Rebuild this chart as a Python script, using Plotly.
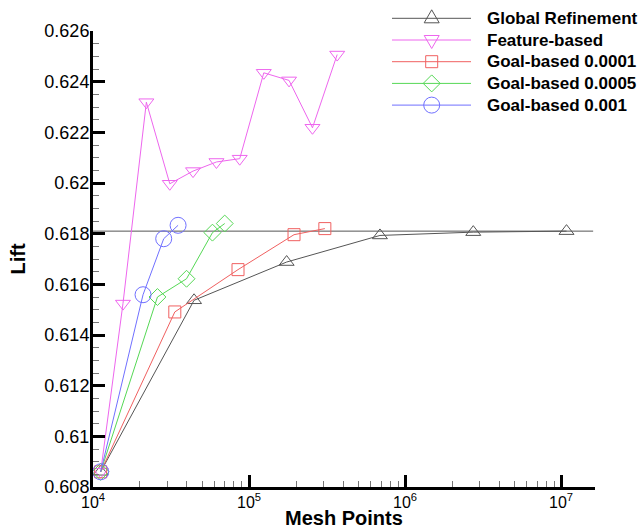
import math
import plotly.graph_objects as go

# ---- data ----
global_x = [11200, 44400, 174000, 689000, 2730000, 10800000]
global_y = [0.6086, 0.61537, 0.61688, 0.61793, 0.61806, 0.6181]

feature_x = [11200, 15560, 21970, 31040, 43740, 61770, 87100, 124200, 180300, 254700, 366800]
feature_y = [0.6086, 0.61524, 0.62319, 0.61997, 0.62047, 0.62083, 0.62096, 0.62435, 0.62405, 0.62218, 0.62507]

goal1e4_x = [11200, 33430, 84900, 194000, 305700]
goal1e4_y = [0.6086, 0.61491, 0.61658, 0.61796, 0.6182]

goal5e4_x = [11200, 25880, 39740, 58240, 69800]
goal5e4_y = [0.6086, 0.6155, 0.61622, 0.61804, 0.6184]

goal1e3_x = [11200, 20920, 28380, 35080]
goal1e3_y = [0.6086, 0.61559, 0.6178, 0.61833]

reference_x = [10000, 16000000]
reference_lift = 0.6181

series_names = ["Global Refinement", "Feature-based", "Goal-based 0.0001", "Goal-based 0.0005", "Goal-based 0.001"]

x_tickvals = [1e4, 1e5, 1e6, 1e7]
x_ticktext = ["10<sup>4</sup>", "10<sup>5</sup>", "10<sup>6</sup>", "10<sup>7</sup>"]

y_tickvals = [0.608, 0.610, 0.612, 0.614, 0.616, 0.618, 0.620, 0.622, 0.624, 0.626]
y_ticktext = ["0.608", "0.61", "0.612", "0.614", "0.616", "0.618", "0.62", "0.622", "0.624", "0.626"]

# ---- styling ----
W, H = 643, 529
ML, MR, MT, MB = 93, 48, 31, 42
PW, PH = W - ML - MR, H - MT - MB

styles = [
    ("#555555", "triangle-up-open", 13),
    ("#ee66ee", "triangle-down-open", 13),
    ("#f06060", "square-open", 12),
    ("#55d855", "diamond-open", 13),
    ("#7070ff", "circle-open", 16),
]
data = [(global_x, global_y), (feature_x, feature_y), (goal1e4_x, goal1e4_y),
        (goal5e4_x, goal5e4_y), (goal1e3_x, goal1e3_y)]

FONT = "Liberation Sans, Arial, sans-serif"

fig = go.Figure()
fig.add_trace(go.Scatter(
    x=reference_x, y=[reference_lift] * len(reference_x), mode="lines",
    line=dict(color="#555555", width=1), showlegend=False, hoverinfo="skip"))

for name, (xs, ys), (color, symbol, size) in zip(series_names, data, styles):
    fig.add_trace(go.Scatter(
        x=xs, y=ys, mode="lines+markers", name=name, showlegend=False,
        line=dict(color=color, width=1),
        marker=dict(symbol=symbol, size=size, color=color, line=dict(width=1, color=color)),
        cliponaxis=False))

# ---- manual legend (line sample, symbol, label) ----
def px_x(p):
    return (p - ML) / PW

def px_y(p):
    return (H - MB - p) / PH

marker_paths = {
    "triangle-up-open": "M-7.5,-4.5 L7.5,-4.5 L0,8.5 Z",
    "triangle-down-open": "M-7.5,4.5 L7.5,4.5 L0,-8.5 Z",
    "square-open": "M-6,-6 L6,-6 L6,6 L-6,6 Z",
    "diamond-open": "M-8.5,0 L0,-8.5 L8.5,0 L0,8.5 Z",
}
shapes = []
annotations = []
row0, row_gap = 18.3, 21.7
for i, (name, (color, symbol, size)) in enumerate(zip(series_names, styles)):
    ry = row0 + row_gap * i
    shapes.append(dict(type="line", xref="paper", yref="paper",
                       x0=px_x(392), x1=px_x(471), y0=px_y(ry), y1=px_y(ry),
                       line=dict(color=color, width=1)))
    if symbol == "circle-open":
        shapes.append(dict(type="circle", xref="paper", yref="paper",
                           xsizemode="pixel", ysizemode="pixel",
                           xanchor=px_x(431.7), yanchor=px_y(ry),
                           x0=-8, x1=8, y0=-8, y1=8,
                           line=dict(color=color, width=1)))
    else:
        shapes.append(dict(type="path", xref="paper", yref="paper",
                           xsizemode="pixel", ysizemode="pixel",
                           xanchor=px_x(431.7), yanchor=px_y(ry),
                           path=marker_paths[symbol],
                           line=dict(color=color, width=1)))
    annotations.append(dict(text=name, xref="paper", yref="paper",
                            x=px_x(485), y=px_y(ry), xanchor="left", yanchor="middle",
                            showarrow=False,
                            font=dict(family=FONT, size=17, color="black", weight="bold")))

# x tick labels placed just under the axis line
for tv, tt in zip(x_tickvals, x_ticktext):
    annotations.append(dict(text=tt, xref="x", yref="paper",
                            x=math.log10(tv), y=px_y(488.5), xanchor="center", yanchor="top",
                            showarrow=False,
                            font=dict(family=FONT, size=16, color="black")))

# x-axis title
annotations.append(dict(text="Mesh Points", xref="paper", yref="paper",
                        x=px_x(344), y=px_y(518.3), xanchor="center", yanchor="middle",
                        showarrow=False,
                        font=dict(family=FONT, size=20, color="black", weight="bold")))

fig.update_layout(
    width=W, height=H,
    margin=dict(l=ML, r=MR, t=MT, b=MB),
    paper_bgcolor="white", plot_bgcolor="white",
    font=dict(family=FONT, size=18, color="black"),
    showlegend=False,
    shapes=shapes,
    annotations=annotations,
    xaxis=dict(
        type="log", range=[4, 7.216], tickvals=x_tickvals, showticklabels=False,
        showline=True, linewidth=3, linecolor="black",
        ticks="inside", ticklen=12, tickwidth=2.5, tickcolor="black",
        showgrid=False, zeroline=False, automargin=False,
        minor=dict(ticks="inside", ticklen=6, tickwidth=1, tickcolor="#777777", dtick="D1", showgrid=False),
    ),
    yaxis=dict(
        range=[0.608, 0.626], tickvals=y_tickvals, ticktext=y_ticktext,
        showline=True, linewidth=3, linecolor="black",
        ticks="inside", ticklen=12, tickwidth=2.5, tickcolor="black",
        showgrid=False, zeroline=False, automargin=False,
        tickfont=dict(size=18), ticklabelstandoff=-3,
        minor=dict(ticks="inside", ticklen=6, tickwidth=1, tickcolor="#777777", dtick=0.0005, showgrid=False),
        title=dict(text="Lift", font=dict(size=20, weight="bold"), standoff=14),
    ),
)

fig.write_html("out.html")
